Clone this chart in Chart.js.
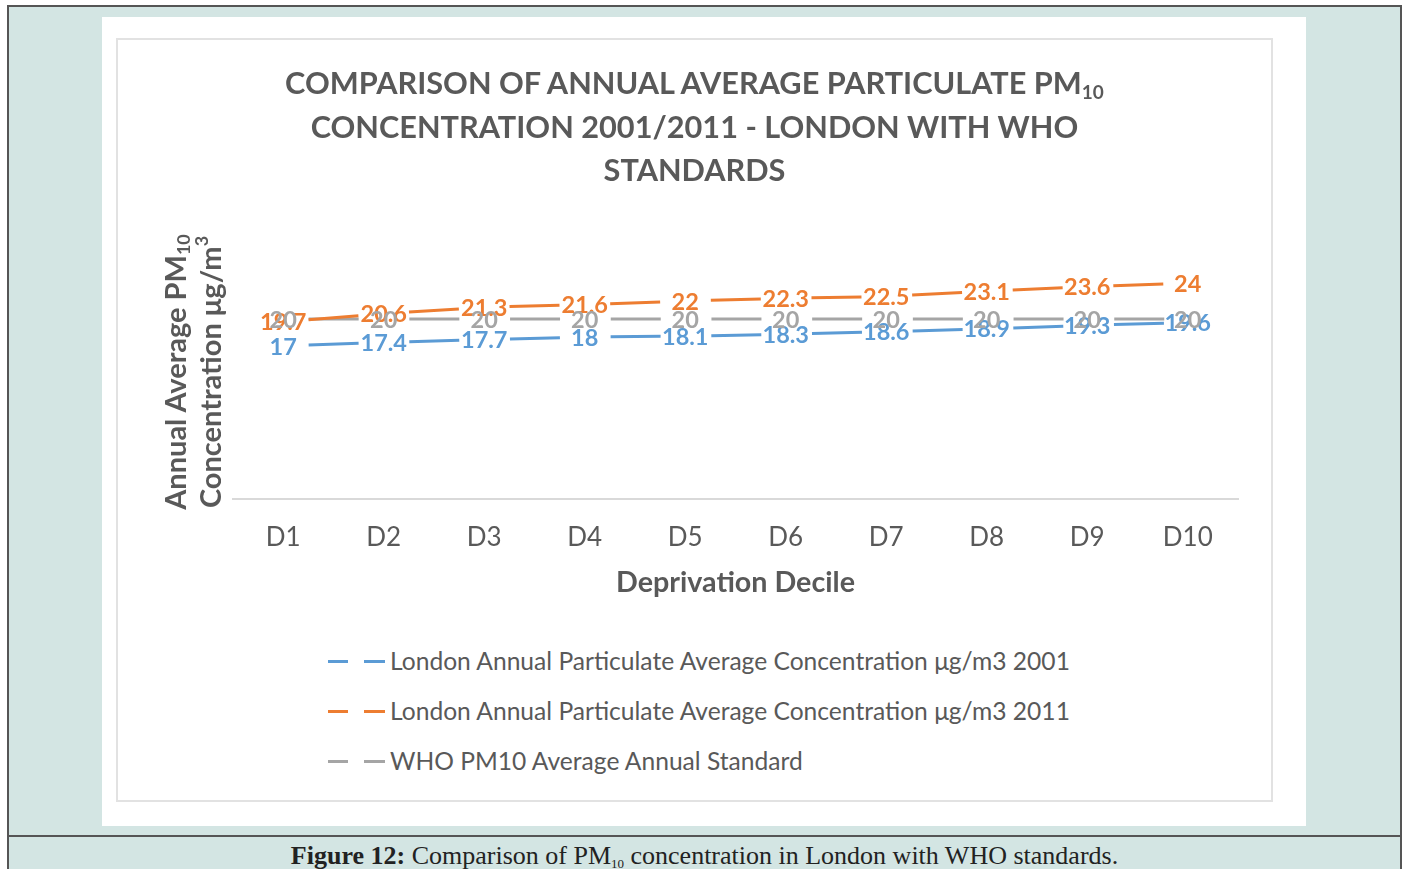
<!DOCTYPE html>
<html>
<head>
<meta charset="utf-8">
<script src="https://cdn.jsdelivr.net/npm/chart.js@4/dist/chart.umd.min.js"></script>
<style>
  body { margin: 0; width: 1405px; height: 869px; overflow: hidden; background: #fff; position: relative; font-family: Lato, sans-serif; }
  #frame { position: absolute; left: 7px; top: 5px; width: 1395px; height: 900px; background: #d3e5e3; border: 2px solid #555; box-sizing: border-box; }
  #divider { position: absolute; left: 7px; top: 835px; width: 1395px; height: 2px; background: #555; }
  #panel { position: absolute; left: 102px; top: 17px; width: 1204px; height: 809px; background: #fff; }
  #chartbox { position: absolute; left: 116px; top: 38px; width: 1157px; height: 764px; border: 2px solid #e2e2e2; box-sizing: border-box; }
  #canvasWrap { position: absolute; left: 117px; top: 39px; width: 1155px; height: 580px; }
  #title { position: absolute; left: 117px; top: 61px; width: 1155px; text-align: center; color: #595959; font: bold 30.7px/43.5px Lato, sans-serif; }
  #title sub, #ytitle sub { font-size: 62%; vertical-align: -0.25em; line-height: 0; }
  #ytitle sup { font-size: 62%; vertical-align: 0.7em; line-height: 0; }
  #ytitle { position: absolute; left: 192px; top: 372px; width: 420px; transform: translate(-50%, -50%) rotate(-90deg); text-align: center; color: #595959; font: bold 29px/35px Lato, sans-serif; }
  #legend { position: absolute; left: 328px; top: 636px; color: #595959; font: 24.6px/50px Lato, sans-serif; }
  .row { display: flex; align-items: center; height: 50px; }
  .sym { position: relative; width: 62px; height: 3px; }
  .sym span { position: absolute; top: 0; height: 3px; }
  .sym span:first-child { left: 0; width: 20px; }
  .sym span:last-child { left: 36px; width: 21px; }
  #caption { position: absolute; left: 7px; top: 839px; width: 1395px; text-align: center; color: #222; font: 26px/34px "Liberation Serif", serif; }
  #caption sub { font-size: 50%; vertical-align: -0.3em; line-height: 0; }
</style>
</head>
<body>
<div id="frame"></div>
<div id="divider"></div>
<div id="panel"></div>
<div id="chartbox"></div>
<div id="canvasWrap"><canvas id="pmChart"></canvas></div>
<div id="title">COMPARISON OF ANNUAL AVERAGE PARTICULATE PM<sub>10</sub><br>CONCENTRATION 2001/2011 - LONDON WITH WHO<br>STANDARDS</div>
<div id="ytitle">Annual Average PM<sub>10</sub><br>Concentration μg/m<sup>3</sup></div>
<div id="legend"></div>
<div id="caption"><b>Figure 12:</b> Comparison of PM<sub>10</sub> concentration in London with WHO standards.</div>
<script>
const deciles = ["D1", "D2", "D3", "D4", "D5", "D6", "D7", "D8", "D9", "D10"]
const pm2001 = [17, 17.4, 17.7, 18, 18.1, 18.3, 18.6, 18.9, 19.3, 19.6]
const pm2011 = [19.7, 20.6, 21.3, 21.6, 22, 22.3, 22.5, 23.1, 23.6, 24]
const whoStandard = [20, 20, 20, 20, 20, 20, 20, 20, 20, 20]
const seriesNames = [
  "London Annual Particulate Average Concentration μg/m3 2001",
  "London Annual Particulate Average Concentration μg/m3 2011",
  "WHO PM10 Average Annual Standard"
]
const seriesColors = ["#5b9bd5", "#ed7d31", "#a5a5a5"]

// draws the value of each point centred on it
const valueLabels = {
  id: "valueLabels",
  afterDatasetsDraw(chart) {
    const ctx = chart.ctx
    ctx.save()
    ctx.font = "bold 23.5px Lato"
    ctx.textAlign = "center"
    ctx.textBaseline = "middle"
    chart.data.datasets.forEach((ds, i) => {
      ctx.fillStyle = ds.borderColor
      chart.getDatasetMeta(i).data.forEach((pt, j) => {
        ctx.fillText(String(ds.data[j]), pt.x, pt.y + 1)
      })
    })
    ctx.restore()
  }
}

function makeDataset(i, values) {
  return {
    label: seriesNames[i],
    data: values,
    borderColor: seriesColors[i],
    backgroundColor: seriesColors[i],
    borderWidth: 3,
    borderDash: [50, 50.7],
    borderDashOffset: 75.3,
    pointRadius: 0,
    tension: 0,
    fill: false
  }
}

new Chart(document.getElementById("pmChart"), {
  type: "line",
  data: {
    labels: deciles,
    datasets: [makeDataset(0, pm2001), makeDataset(1, pm2011), makeDataset(2, whoStandard)]
  },
  options: {
    responsive: true,
    maintainAspectRatio: false,
    animation: false,
    layout: { padding: { left: 116, right: 34, top: 190, bottom: 0 } },
    plugins: {
      legend: { display: false },
      tooltip: { enabled: false }
    },
    scales: {
      x: {
        offset: true,
        grid: { display: false, drawTicks: false },
        border: { display: true, color: "#d9d9d9", width: 2 },
        ticks: { color: "#595959", font: { family: "Lato", size: 26 }, padding: 23 },
        title: {
          display: true,
          text: "Deprivation Decile",
          color: "#595959",
          font: { family: "Lato", size: 28.7, weight: "bold" },
          padding: { top: 0, bottom: 19 }
        },
        afterFit(scale) { scale.height = 120 }
      },
      y: {
        display: false,
        min: 0,
        max: 30
      }
    }
  },
  plugins: [valueLabels]
})

const legendBox = document.getElementById("legend")
seriesNames.forEach((name, i) => {
  const row = document.createElement("div")
  row.className = "row"
  row.innerHTML = `<div class="sym"><span style="background:${seriesColors[i]}"></span><span style="background:${seriesColors[i]}"></span></div><div>${name}</div>`
  legendBox.appendChild(row)
})
</script>
</body>
</html>
